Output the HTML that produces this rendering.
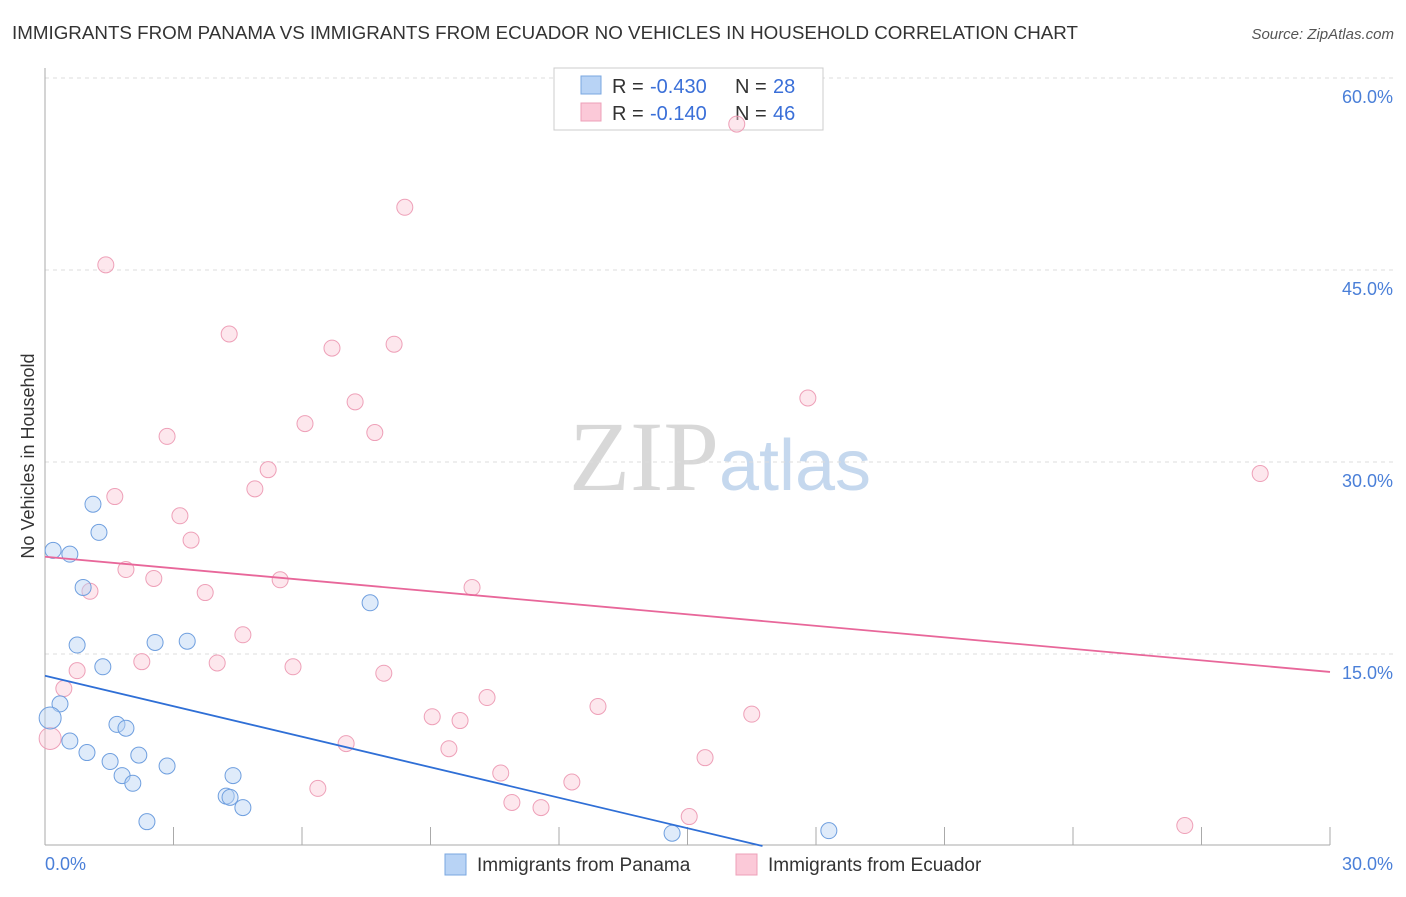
<!DOCTYPE html>
<html><head><meta charset="utf-8"><style>
body{margin:0;background:#fff;font-family:"Liberation Sans",sans-serif;}
</style></head><body>
<svg id="chart" width="1406" height="892" xmlns="http://www.w3.org/2000/svg" style="font-family:'Liberation Sans',sans-serif">
<text x="12" y="39" font-size="18" fill="#333" textLength="1066" lengthAdjust="spacingAndGlyphs">IMMIGRANTS FROM PANAMA VS IMMIGRANTS FROM ECUADOR NO VEHICLES IN HOUSEHOLD CORRELATION CHART</text>
<text x="1394" y="39" font-size="15" fill="#555" text-anchor="end" font-style="italic">Source: ZipAtlas.com</text>
<text x="720" y="490" font-size="100" text-anchor="middle" fill="#d8d8d8" font-family="Liberation Serif">ZIP<tspan fill="#c5d8ee" font-family="Liberation Sans" font-size="72">atlas</tspan></text>
<text transform="translate(34,456) rotate(-90)" font-size="18" fill="#333" text-anchor="middle">No Vehicles in Household</text>
<g id="grid"></g><g id="ticks"></g>
<g>
<rect x="554" y="68" width="269" height="62" fill="#fff" stroke="#ccc"/>
<rect x="581" y="76" width="20" height="18" fill="#b8d3f5" stroke="#7aa7e0"/>
<text x="612" y="93" font-size="20" fill="#333">R =</text>
<text x="650" y="93" font-size="20" fill="#3a6fd8">-0.430</text>
<text x="735" y="93" font-size="20" fill="#333">N =</text>
<text x="773" y="93" font-size="20" fill="#3a6fd8">28</text>
<rect x="581" y="103" width="20" height="18" fill="#fbc9d8" stroke="#eea0b8"/>
<text x="612" y="120" font-size="20" fill="#333">R =</text>
<text x="650" y="120" font-size="20" fill="#3a6fd8">-0.140</text>
<text x="735" y="120" font-size="20" fill="#333">N =</text>
<text x="773" y="120" font-size="20" fill="#3a6fd8">46</text>
</g>
<g id="marks"></g>
<g>
<rect x="445" y="854" width="21" height="21" fill="#b8d3f5" stroke="#7aa7e0"/>
<text x="477" y="871" font-size="19" fill="#333">Immigrants from Panama</text>
<rect x="736" y="854" width="21" height="21" fill="#fbc9d8" stroke="#eea0b8"/>
<text x="768" y="871" font-size="19" fill="#333">Immigrants from Ecuador</text>
</g>
</svg>
<script>
const yTicks=[15,30,45,60];
const yTickLabels=["15.0%","30.0%","45.0%","60.0%"];
const xTickLabels=["0.0%","30.0%"];
const panamaX=[0.19,0.58,1.12,1.26,0.89,0.75,1.35,2.57,3.32,7.59,0.35,0.12,0.58,0.98,1.68,1.89,1.52,2.19,2.85,1.80,2.05,4.39,4.23,4.32,4.62,2.38,14.64,18.3];
const panamaY=[23.1,22.8,26.7,24.5,20.2,15.7,14.0,15.9,16.0,19.0,11.1,10.0,8.2,7.3,9.5,9.2,6.6,7.1,6.25,5.5,4.9,5.5,3.9,3.8,3.0,1.9,1.0,1.2];
const ecuadorX=[16.15,8.40,1.42,4.30,6.70,8.15,17.81,7.24,2.85,6.07,7.70,28.37,5.21,4.90,1.63,3.15,3.41,1.89,2.54,5.49,3.74,1.05,9.97,4.62,2.26,4.02,5.79,0.75,7.91,0.44,10.32,12.91,16.50,9.04,9.69,0.12,7.03,9.43,15.41,10.64,12.30,6.37,10.90,11.58,15.04,26.61];
const ecuadorY=[56.4,49.9,45.4,40.0,38.9,39.2,35.0,34.7,32.0,33.0,32.3,29.1,29.4,27.9,27.3,25.8,23.9,21.6,20.9,20.8,19.8,19.9,20.2,16.5,14.4,14.3,14.0,13.7,13.5,12.3,11.6,10.9,10.3,10.1,9.8,8.4,8.0,7.6,6.9,5.7,5.0,4.5,3.4,3.0,2.3,1.6];
const panamaTrend=[13.3,-0.794];
const ecuadorTrend=[22.6,-0.30];
const NS="http://www.w3.org/2000/svg";
const X=v=>45+v/30*1285, Y=v=>846-v*12.8;
function mk(t,a,p){const e=document.createElementNS(NS,t);for(const k in a)e.setAttribute(k,a[k]);document.getElementById(p).appendChild(e);return e;}
yTicks.forEach((t,i)=>{
 const g=mk('line',{x1:45,x2:1394,y1:Y(t),y2:Y(t),stroke:'#ddd','stroke-dasharray':'4,4'},'grid');
 
 
 const l=mk('text',{x:1393,y:Y(t)+25,'font-size':18,fill:'#4a7fd8','text-anchor':'end'},'ticks');
 l.textContent=yTickLabels[i];
 
 
});
const ax=mk('line',{x1:45,x2:1330,y1:845,y2:845,stroke:'#aaa'},'grid');


const ay=mk('line',{x1:45,x2:45,y1:68,y2:845,stroke:'#aaa'},'grid');


for(let i=0;i<=10;i++){
 const t=mk('line',{x1:X(i*3),x2:X(i*3),y1:827,y2:845,stroke:'#aaa'},'grid');
 
 
}
[[0,'start',45],[30,'end',1393]].forEach((d,i)=>{
 const l=mk('text',{x:d[2],y:870,'font-size':18,fill:'#4a7fd8','text-anchor':d[1]},'ticks');
 l.textContent=xTickLabels[i];
 
 
});
function pts(xs,ys,fill,stroke,name){
 xs.forEach((x,i)=>{
  const big=(x<0.2&&ys[i]>7&&ys[i]<11);
  const c=mk('circle',{cx:X(x),cy:Y(ys[i]),r:big?11:8,fill:fill,'fill-opacity':0.45,stroke:stroke,'stroke-width':1},'marks');
  
  
 });
}
pts(ecuadorX,ecuadorY,'#fbc9d8','#eea0b8','ecuador-point');
pts(panamaX,panamaY,'#b8d3f5','#6f9fdf','panama-point');
const pe=-panamaTrend[0]/panamaTrend[1];
const l1=mk('line',{x1:X(0),y1:Y(panamaTrend[0]),x2:X(pe),y2:Y(0),stroke:'#2f6fd6','stroke-width':1.8},'marks');


const l2=mk('line',{x1:X(0),y1:Y(ecuadorTrend[0]),x2:X(30),y2:Y(ecuadorTrend[0]+ecuadorTrend[1]*30),stroke:'#e8679a','stroke-width':1.8},'marks');


</script>
</body></html>
